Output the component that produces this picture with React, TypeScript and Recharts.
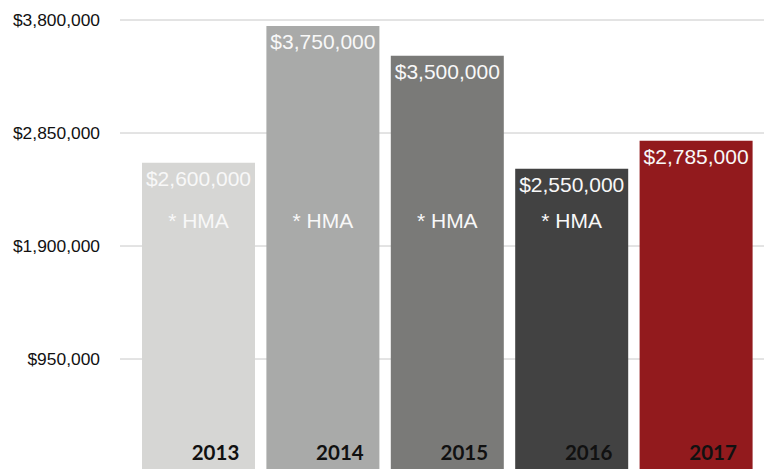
import React from "react";
import { BarChart, Bar, XAxis, YAxis, CartesianGrid, Cell, LabelList } from "recharts";

const years = ["2013", "2014", "2015", "2016", "2017"];
const values = [2600000, 3750000, 3500000, 2550000, 2785000];
const notes = ["* HMA", "* HMA", "* HMA", "* HMA", ""];
const colors = ["#d6d6d4", "#a9aaa9", "#7a7a78", "#424242", "#921a1d"];
const yTicks = [950000, 1900000, 2850000, 3800000];

const data = years.map((y, i) => ({ year: y, value: values[i], note: notes[i] }));

const fmt = (v: number) => "$" + v.toLocaleString("en-US");

const BarLabels = (props: any) => {
  const { x, y, width, height, index } = props;
  const cx = x + width / 2;
  const bottom = y + height;
  return (
    <g>
      <text x={cx} y={y + 23} textAnchor="middle" fill="#f8f8f8" fontSize={21} fontFamily="Liberation Sans, Arial, sans-serif">
        {fmt(values[index])}
      </text>
      {notes[index] ? (
        <text x={cx} y={bottom - 244} textAnchor="middle" fill="#f8f8f8" fontSize={21} fontFamily="Liberation Sans, Arial, sans-serif">
          {notes[index]}
        </text>
      ) : null}
      <text x={cx + 17} y={bottom - 12} textAnchor="middle" fill="#111" fontSize={20.5} fontWeight="bold" fontFamily="Lato, sans-serif">
        {years[index]}
      </text>
    </g>
  );
};

export default function App() {
  return (
    <div style={{ position: "absolute", left: 0, top: 0, width: 764, height: 469, overflow: "hidden", background: "#fff" }}>
      <BarChart width={764} height={480} data={data} margin={{ top: 20, right: 0, bottom: 8, left: 0 }}>
        <CartesianGrid vertical={false} stroke="#c8c8c8" strokeWidth={1} />
        <XAxis dataKey="year" hide padding={{ left: 16, right: 6 }} />
        <YAxis
          width={120}
          domain={[0, 3800000]}
          ticks={yTicks}
          tickFormatter={fmt}
          axisLine={false}
          tickLine={false}
          tickSize={0}
          tickMargin={20}
          tick={{ fill: "#111", fontSize: 17.4, fontFamily: "Liberation Sans, Arial, sans-serif" }}
        />
        <Bar dataKey="value" barSize={113} isAnimationActive={false}>
          {data.map((d, i) => (
            <Cell key={d.year} fill={colors[i]} />
          ))}
          <LabelList dataKey="value" content={BarLabels} />
        </Bar>
      </BarChart>
    </div>
  );
}
